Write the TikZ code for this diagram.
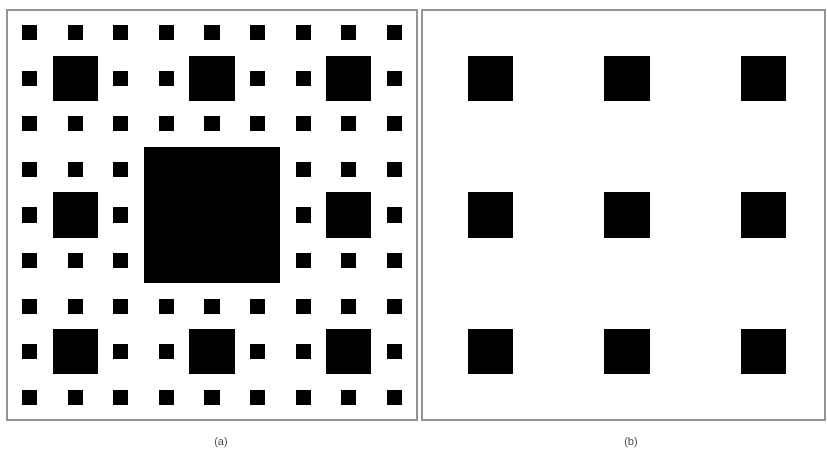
\documentclass[tikz,border=0pt]{standalone}
\usepackage{fontspec}
\setmainfont{Liberation Sans}
\usetikzlibrary{positioning}

\begin{document}
\begin{tikzpicture}[x=1pt,y=-1pt,
  panel/.style={draw=black!42,line width=1.8pt},
  cell/.style={fill=black},
  lbl/.style={font=\fontsize{11}{13}\selectfont,text=black!70,inner sep=0pt}]
\useasboundingbox (0,0) rectangle (827,454);
\def\cw{15.185}
% (a) carpet, three levels
\draw[panel] (7,10) rectangle (417,420);
\foreach \i in {0,...,8}
  \foreach \j in {0,...,8}
    \fill[cell] ({7+(3*\i+1)*\cw},{10+(3*\j+1)*\cw}) rectangle ++(\cw,\cw);
\foreach \i in {0,1,2}
  \foreach \j in {0,1,2}
    \fill[cell] ({7+(9*\i+3)*\cw},{10+(9*\j+3)*\cw}) rectangle ++(3*\cw,3*\cw);
\fill[cell] ({7+9*\cw},{10+9*\cw}) rectangle ++(9*\cw,9*\cw);
% (b) nine squares
\draw[panel] (422,10) rectangle (825,420);
\foreach \i in {0,1,2}
  \foreach \j in {0,1,2}
    \fill[cell] ({422+(9*\i+3)*\cw},{10+(9*\j+3)*\cw}) rectangle ++(3*\cw,3*\cw);
\node[lbl] (la) at (221,443) {(a)};
\node[lbl] (lb) at (631,443) {(b)};
\end{tikzpicture}
\end{document}
